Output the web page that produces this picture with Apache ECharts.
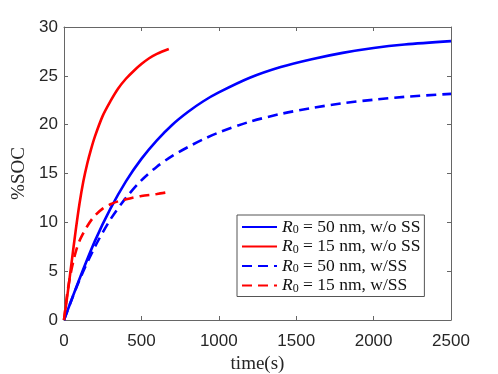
<!DOCTYPE html>
<html>
<head>
<meta charset="utf-8">
<script src="https://cdn.jsdelivr.net/npm/echarts@6/dist/echarts.min.js"></script>
<style>
  html, body { margin: 0; padding: 0; background: #fff; }
  #chart { width: 498px; height: 374px; }
</style>
</head>
<body>
<div id="chart"></div>
<script>
// R0 = 50 nm, w/o SS
const tBlue = [0, 100, 200, 300, 400, 500, 600, 700, 800, 900, 1000, 1200, 1400, 1600, 1800, 2000, 2200, 2500]
const socBlue = [0, 4.2, 8.1, 11.4, 14.2, 16.5, 18.4, 20.0, 21.3, 22.4, 23.3, 24.8, 25.9, 26.7, 27.35, 27.85, 28.2, 28.55]
// R0 = 15 nm, w/o SS
const tRed = [0, 25, 50, 75, 100, 125, 150, 175, 200, 250, 300, 350, 400, 450, 500, 550, 600, 677]
const socRed = [0, 2.9, 6.0, 9.1, 11.9, 14.2, 16.0, 17.5, 18.8, 20.9, 22.4, 23.7, 24.7, 25.5, 26.2, 26.8, 27.25, 27.75]
// R0 = 50 nm, w/SS
const tBlueSS = [0, 100, 200, 300, 400, 500, 600, 700, 800, 900, 1000, 1200, 1400, 1600, 1800, 2000, 2200, 2500]
const socBlueSS = [0, 4.1, 7.5, 10.3, 12.5, 14.3, 15.7, 16.8, 17.7, 18.5, 19.2, 20.3, 21.1, 21.7, 22.2, 22.55, 22.85, 23.15]
// R0 = 15 nm, w/SS
const tRedSS = [0, 20, 40, 60, 80, 100, 125, 150, 175, 200, 250, 300, 350, 425, 500, 600, 677]
const socRedSS = [0, 2.6, 4.5, 6.0, 7.2, 8.1, 8.9, 9.6, 10.2, 10.7, 11.4, 11.85, 12.15, 12.45, 12.7, 12.9, 13.1]

const legendNames = ['50 nm, w/o SS', '15 nm, w/o SS', '50 nm, w/SS', '15 nm, w/SS']
const xTicks = [0, 500, 1000, 1500, 2000, 2500]
const yTicks = [0, 5, 10, 15, 20, 25, 30]

const pairs = (t, v) => t.map((x, i) => [x, v[i]])

let charts = echarts.init(document.getElementById('chart'))

const axisCommon = {
  axisLine: { show: true, onZero: false, lineStyle: { color: '#666', width: 1 } },
  axisTick: { show: true, inside: true, length: 4, lineStyle: { color: '#666' } },
  splitLine: { show: false }
}
const tickFont = { color: '#262626', fontSize: 17, fontFamily: 'Liberation Sans', formatter: (v) => String(v) }
const serif = 'Liberation Serif'

const mkSeries = (name, t, v, color, dashed) => ({
  name: name,
  type: 'line',
  data: pairs(t, v),
  smooth: 0.3,
  symbol: 'none',
  lineStyle: { color: color, width: 2.6, type: dashed ? [10, 6] : 'solid' },
  itemStyle: { color: color }
})

let options = {
  animation: false,
  grid: { left: 64, right: 47, top: 27, bottom: 54, outerBoundsMode: 'none' },
  xAxis: [
    Object.assign({
      type: 'value', min: xTicks[0], max: xTicks[xTicks.length - 1], interval: 500,
      position: 'bottom',
      axisLabel: Object.assign({ margin: 13 }, tickFont),
      name: 'time(s)', nameLocation: 'middle', nameGap: 29,
      nameTextStyle: { fontFamily: serif, fontSize: 19, color: '#262626' }
    }, axisCommon),
    Object.assign({
      type: 'value', min: 0, max: 2500, interval: 500, position: 'top',
      axisLabel: { show: false }
    }, axisCommon)
  ],
  yAxis: [
    Object.assign({
      type: 'value', min: yTicks[0], max: yTicks[yTicks.length - 1], interval: 5,
      position: 'left',
      axisLabel: Object.assign({ margin: 6 }, tickFont),
      name: '%SOC', nameLocation: 'middle', nameGap: 31,
      nameTextStyle: { fontFamily: serif, fontSize: 19, color: '#262626' }
    }, axisCommon),
    Object.assign({
      type: 'value', min: 0, max: 30, interval: 5, position: 'right',
      axisLabel: { show: false }
    }, axisCommon)
  ],
  legend: {
    orient: 'vertical',
    left: 237,
    top: 215,
    padding: [3, 4, 2, 4],
    itemGap: 1.5,
    itemWidth: 35,
    itemHeight: 14,
    backgroundColor: '#fff',
    borderColor: '#555',
    borderWidth: 1,
    borderRadius: 0,
    itemStyle: { opacity: 0 },
    data: legendNames,
    formatter: (name) => '{i|R}{s|0}{t| = ' + name + '}',
    textStyle: {
      fontFamily: serif,
      fontSize: 17,
      color: '#111',
      rich: {
        i: { fontFamily: serif, fontStyle: 'italic', fontSize: 17.5 },
        s: { fontFamily: serif, fontSize: 12, padding: [6, 0, 0, 0] },
        t: { fontFamily: serif, fontSize: 17.5 }
      }
    }
  },
  series: [
    mkSeries(legendNames[0], tBlue, socBlue, '#0000ff', false),
    mkSeries(legendNames[1], tRed, socRed, '#ff0000', false),
    mkSeries(legendNames[2], tBlueSS, socBlueSS, '#0000ff', true),
    mkSeries(legendNames[3], tRedSS, socRedSS, '#ff0000', true)
  ]
}
charts.setOption(options)
</script>
</body>
</html>
